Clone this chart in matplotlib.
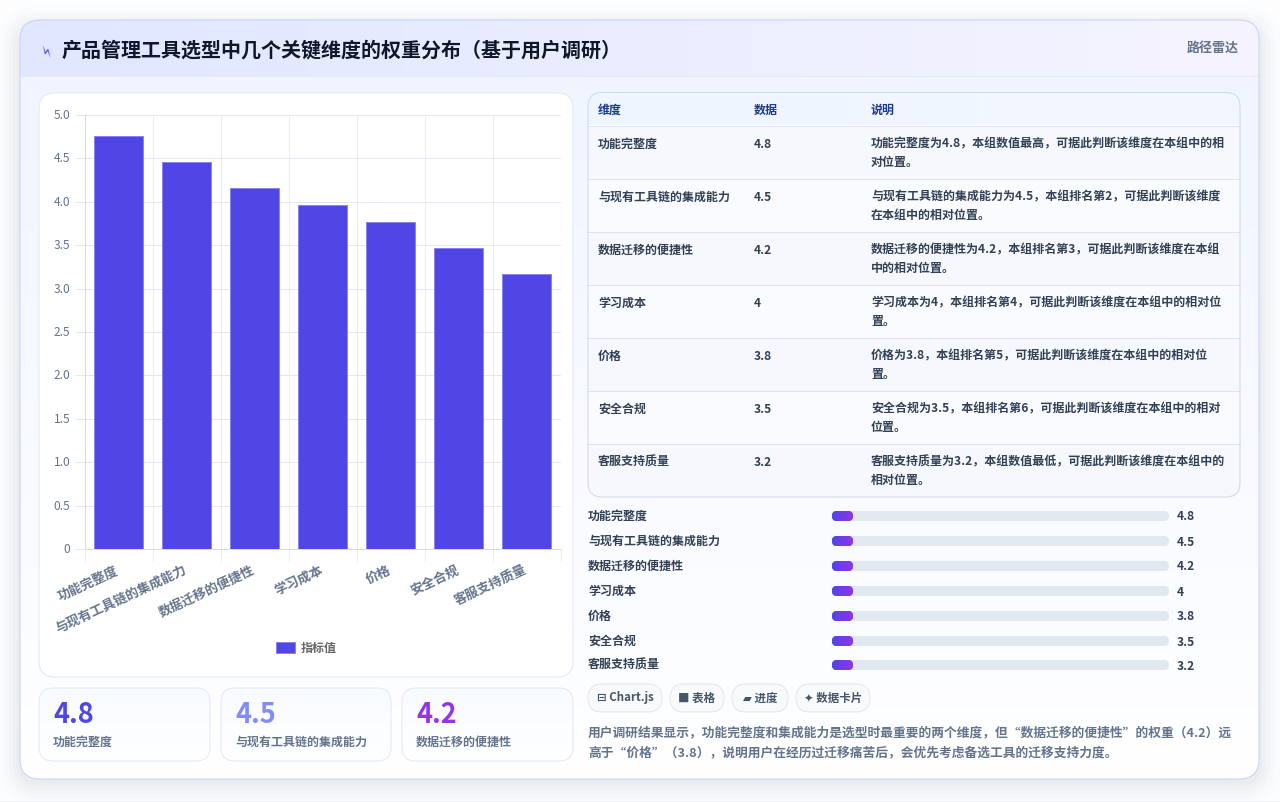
import numpy as np
import matplotlib
matplotlib.use('Agg')
import matplotlib.pyplot as plt
from matplotlib.patches import FancyBboxPatch, Rectangle
from matplotlib.transforms import ScaledTranslation

plt.rcParams['font.family'] = ['Noto Sans CJK SC', 'DejaVu Sans']

W, H = 1280, 802
PX = 0.72  # css px to pt at dpi 100
THIN = 0.72  # 1 px line

categories = ['功能完整度', '与现有工具链的集成能力', '数据迁移的便捷性', '学习成本', '价格', '安全合规', '客服支持质量']
# bar heights
bar_heights = [4.76, 4.46, 4.16, 3.96, 3.77, 3.47, 3.17]
# printed values in table / progress rows
value_labels = ['4.8', '4.5', '4.2', '4', '3.8', '3.5', '3.2']
y_ticks = [0, 0.5, 1, 1.5, 2, 2.5, 3, 3.5, 4, 4.5, 5]
y_tick_labels = ['0', '0.5', '1.0', '1.5', '2.0', '2.5', '3.0', '3.5', '4.0', '4.5', '5.0']
table_head = ['维度', '数据', '说明']
notes = [
    '功能完整度为4.8，本组数值最高，可据此判断该维度在本组中的相\n对位置。',
    '与现有工具链的集成能力为4.5，本组排名第2，可据此判断该维度\n在本组中的相对位置。',
    '数据迁移的便捷性为4.2，本组排名第3，可据此判断该维度在本组\n中的相对位置。',
    '学习成本为4，本组排名第4，可据此判断该维度在本组中的相对位\n置。',
    '价格为3.8，本组排名第5，可据此判断该维度在本组中的相对位\n置。',
    '安全合规为3.5，本组排名第6，可据此判断该维度在本组中的相对\n位置。',
    '客服支持质量为3.2，本组数值最低，可据此判断该维度在本组中的\n相对位置。',
]
kpi_values = ['4.8', '4.5', '4.2']
kpi_labels = ['功能完整度', '与现有工具链的集成能力', '数据迁移的便捷性']
kpi_colors = ['#4f46e5', '#818cf8', '#9333ea']
chip_labels = ['⊟ Chart.js', '■ 表格', '▰ 进度', '✦ 数据卡片']
title = '产品管理工具选型中几个关键维度的权重分布（基于用户调研）'
summary = ['用户调研结果显示，功能完整度和集成能力是选型时最重要的两个维度，但“数据迁移的便捷性”的权重（4.2）远',
           '高于“价格”（3.8），说明用户在经历过迁移痛苦后，会优先考虑备选工具的迁移支持力度。']


def round_box(ax, x0, y0, x1, y1, r, fc='white', ec='none', lw=THIN, z=1, alpha=None):
    p = FancyBboxPatch((x0, y0), x1 - x0, y1 - y0, boxstyle=f'round,pad=0,rounding_size={r}',
                       fc=fc, ec=ec, lw=lw, zorder=z, alpha=alpha)
    ax.add_patch(p)
    return p


def gradient(ax, x0, y0, x1, y1, c0, c1, clip=None, vertical=False, z=2):
    # small two colour image, clipped to a patch when given
    a = np.array(matplotlib.colors.to_rgb(c0))
    b = np.array(matplotlib.colors.to_rgb(c1))
    t = np.linspace(0, 1, 128)[:, None]
    col = a + (b - a) * t
    img = col[:, None, :] if vertical else col[None, :, :]
    im = ax.imshow(img, extent=(x0, x1, y1, y0), aspect='auto', zorder=z, interpolation='bilinear')
    if clip is not None:
        im.set_clip_path(clip)
    return im


def txt(ax, x, y, s, size, color, weight='normal', ha='left', z=6, **kw):
    return ax.text(x, y, s, fontsize=size * PX, color=color, fontweight=weight, ha=ha, va='center', zorder=z, **kw)


fig = plt.figure(figsize=(W / 100, H / 100), dpi=100, facecolor='#fdfdfe')
bg = fig.add_axes([0, 0, 1, 1], zorder=0)
bg.set_axis_off()

# card shadow
for grow, a in zip([22, 16, 11, 7, 3], [0.012, 0.015, 0.018, 0.02, 0.025]):
    round_box(bg, 20 - grow, 20 - grow + 8, 1259 + grow, 779 + grow + 4, 20 + grow, fc='#475569', z=0.5, alpha=a)
bg.axhline(801, color='#eef0f4', lw=THIN, zorder=0.6)

# main card, header
card = round_box(bg, 20, 20, 1259, 779, 20, fc='white', z=1)
gradient(bg, 20, 20, 1259, 779, '#eff4ff', '#ffffff', clip=card, vertical=True, z=1.1)
head = gradient(bg, 20, 20, 1259, 76, '#e0e7ff', '#f6f4ff', clip=card, z=1.2)
bg.plot([20, 1259], [76, 76], color='#e6eaf6', lw=THIN, zorder=1.3)
round_box(bg, 20, 20, 1259, 779, 20, fc='none', ec='#c7d2f5', z=1.4)

txt(bg, 48, 51, '⚡', 15, '#4f46e5', rotation=68, ha='center')
txt(bg, 62, 50, title, 20, '#0f172a', 'bold')
txt(bg, 1239, 48, '路径雷达', 13, '#64748b', 'bold', ha='right')

# chart panel and KPI cards
round_box(bg, 39, 93, 573, 677, 16, fc='white', ec='#e2e8f0', z=3)
for (x0, x1), v, lab, c in zip([(39, 210), (221, 391), (402, 573)], kpi_values, kpi_labels, kpi_colors):
    box = round_box(bg, x0, 688, x1, 761, 14, fc='white', z=3)
    gradient(bg, x0, 688, x1, 761, '#f8fbff', '#ffffff', clip=box, vertical=True, z=3.1)
    round_box(bg, x0, 688, x1, 761, 14, fc='none', ec='#e0e9f7', z=3.2)
    txt(bg, x0 + 14, 715, v, 27, c, 'bold')
    txt(bg, x0 + 14, 742, lab, 12, '#64748b', 'bold')

# bar chart
ax = fig.add_axes([84.5 / W, 1 - 549 / H, (561 - 84.5) / W, (549 - 115) / H], zorder=2)
ax.patch.set_alpha(0)
x = np.arange(len(categories))
ax.bar(x, bar_heights, width=0.72, color='#4f46e5', edgecolor='#8a85ee', linewidth=THIN, label='指标值', zorder=3)
ax.set_xlim(-0.5, len(categories) - 0.5)
ax.set_ylim(0, 5)
ax.set_yticks(y_ticks, y_tick_labels)
ax.set_xticks(x, categories, rotation=25, ha='right', rotation_mode='anchor')
ax.xaxis.set_minor_locator(matplotlib.ticker.FixedLocator(np.arange(len(categories) + 1) - 0.5))
ax.tick_params(axis='x', which='major', length=0, pad=10, labelsize=13 * PX, labelcolor='#64748b')
ax.tick_params(axis='x', which='minor', length=9, color='#e8edf3', width=THIN)
ax.tick_params(axis='y', length=7, color='#e2e8f0', width=THIN, pad=3, labelsize=12 * PX, labelcolor='#64748b')
shift = ScaledTranslation(-4 / 100, 0, fig.dpi_scale_trans)
for lab in ax.get_xticklabels():
    lab.set_fontweight('bold')
    lab.set_transform(lab.get_transform() + shift)
for lab in ax.get_yticklabels():
    lab.set_transform(lab.get_transform() + ScaledTranslation(0, 1 / 100, fig.dpi_scale_trans))
ax.grid(True, axis='y', color='#e2e8f0', lw=THIN, zorder=0)
ax.grid(True, axis='x', which='minor', color='#e8edf3', lw=THIN, zorder=0)
for side in ['top', 'right']:
    ax.spines[side].set_visible(False)
for side in ['left', 'bottom']:
    ax.spines[side].set_color('#d5dae4')
    ax.spines[side].set_linewidth(THIN)
leg = ax.legend(loc='center', bbox_to_anchor=(306.5, 648), bbox_transform=bg.transData, frameon=False,
                fontsize=12 * PX, handlelength=1.55, handleheight=1.0, handletextpad=0.55, borderpad=0)
for t in leg.get_texts():
    t.set_color('#666666')
    t.set_fontweight('bold')

# table
tbl = round_box(bg, 588, 92.5, 1240, 497, 14, fc='white', z=3)
gradient(bg, 588, 92.5, 1240, 125, '#eef5ff', '#f3f7ff', clip=tbl, z=3.1)
row_tops = [125.5 + 53 * i for i in range(len(categories))]
for i, top in enumerate(row_tops):
    r = Rectangle((588, top), 652, 53, fc='#f6f8fd' if i % 2 == 0 else '#fafbfe', ec='none', zorder=3.1)
    bg.add_patch(r)
    r.set_clip_path(tbl)
    bg.plot([588, 1240], [top, top], color='#dde3ee', lw=THIN, zorder=3.2)
    txt(bg, 598, top + 18.6, categories[i], 12, '#334155', 'bold')
    txt(bg, 754, top + 18.6, value_labels[i], 12, '#334155', 'bold')
    for k, line in enumerate(notes[i].split('\n')):
        txt(bg, 871, top + 18.6 + 18 * k, line, 12, '#334155', 'bold')
for xp, s in zip([598, 754, 871], table_head):
    txt(bg, xp, 110, s, 12, '#1e3a8a', 'bold')
round_box(bg, 588, 92.5, 1240, 497, 14, fc='none', ec='#cfd8e6', z=3.3)

# progress rows
row_y = [516, 541, 566, 591, 616, 641, 665]
for ypos, name, v in zip(row_y, categories, value_labels):
    txt(bg, 588, ypos, name, 12, '#334155', 'bold')
    round_box(bg, 832, ypos - 5, 1169, ypos + 5, 5, fc='#e2e8f0', z=3)
    fill = round_box(bg, 832, ypos - 5, 853, ypos + 5, 5, fc='#4f46e5', z=3.1)
    gradient(bg, 832, ypos - 5, 853, ypos + 5, '#4f46e5', '#9333ea', clip=fill, z=3.2)
    txt(bg, 1177, ypos + 1, v, 12, '#334155', 'bold')

# chips
chip_x = [(588, 662), (670, 724), (732, 788), (796, 870)]
for (x0, x1), s in zip(chip_x, chip_labels):
    round_box(bg, x0, 684, x1, 712, 14, fc='#f8fafc', ec='#e2e8f0', z=3)
    txt(bg, (x0 + x1) / 2, 698, s, 11.5, '#475569', 'bold', ha='center')

for ypos, line in zip([733, 753], summary):
    txt(bg, 588, ypos, line, 12.75, '#64748b', 'bold')

bg.set_xlim(0, W)
bg.set_ylim(H, 0)

fig.savefig('out.png', dpi=100)
